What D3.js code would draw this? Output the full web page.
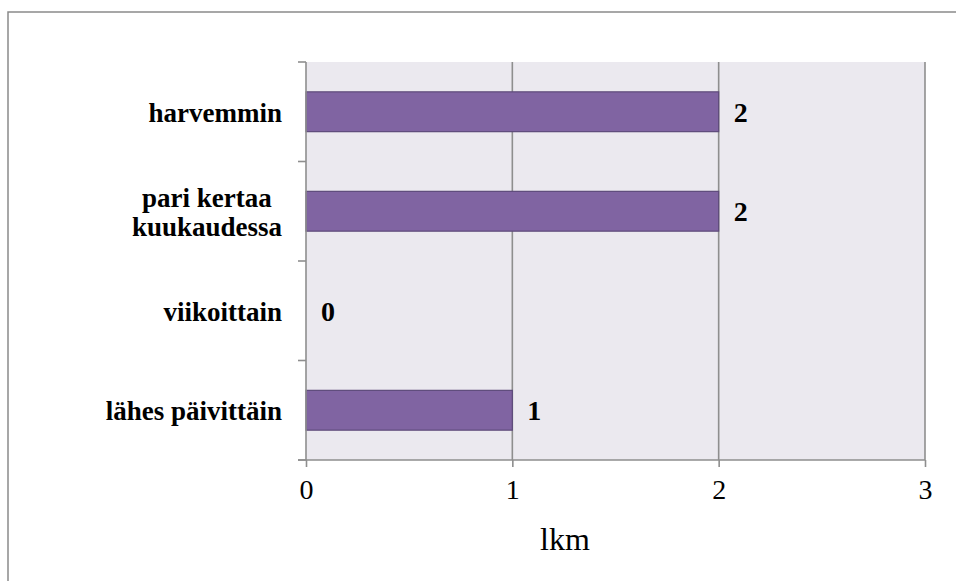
<!DOCTYPE html>
<html>
<head>
<meta charset="utf-8">
<script src="https://cdn.jsdelivr.net/npm/d3@7"></script>
<style>
  html, body { margin: 0; padding: 0; background: #ffffff; }
  svg { display: block; }
</style>
</head>
<body>
<svg id="chart" width="956" height="581"></svg>
<script>
// Categories, top to bottom, with "\n" marking a line break in a label
const categories = ["harvemmin", "pari kertaa\nkuukaudessa", "viikoittain", "lähes päivittäin"];
const counts = [2, 2, 0, 1];
const xTicks = [0, 1, 2, 3];
const xTitle = "lkm";

const W = 956, H = 581;
const plot = { left: 306, right: 925, top: 62, bottom: 460 };
const serif = "'Liberation Serif', 'Times New Roman', serif";
const gridColor = "#8e8e8e";

const svg = d3.select("#chart");

// Outer frame
svg.append("path")
  .attr("d", `M8,${H + 2}V12H${W + 2}`)
  .attr("fill", "none")
  .attr("stroke", "#8a8a8a")
  .attr("stroke-width", 1.5);

const x = d3.scaleLinear().domain([0, 3]).range([plot.left, plot.right]);
const y = d3.scaleBand().domain(categories)
  .range([plot.top, plot.bottom])
  .paddingInner(0.6).paddingOuter(0.3);

// Plot background
svg.append("rect")
  .attr("x", plot.left).attr("y", plot.top)
  .attr("width", plot.right - plot.left).attr("height", plot.bottom - plot.top)
  .attr("fill", "#ebe9ef");

// Vertical gridlines
svg.append("g").selectAll("line")
  .data(xTicks.filter(d => d > 0))
  .join("line")
  .attr("x1", d => x(d)).attr("x2", d => x(d))
  .attr("y1", plot.top).attr("y2", plot.bottom)
  .attr("stroke", gridColor).attr("stroke-width", 1.6);

// Bars
svg.append("g").selectAll("rect")
  .data(categories.map((c, i) => ({ c, v: counts[i] })).filter(d => d.v > 0))
  .join("rect")
  .attr("x", x(0))
  .attr("y", d => y(d.c))
  .attr("width", d => x(d.v) - x(0))
  .attr("height", y.bandwidth())
  .attr("fill", "#8064a2")
  .attr("stroke", "#5d4a7a")
  .attr("stroke-width", 1.2);

// X axis (bottom) with tick marks below the line
const xAxis = d3.axisBottom(x).tickValues(xTicks).tickFormat(d3.format("d"))
  .tickSize(7).tickPadding(12);
const gx = svg.append("g").attr("transform", `translate(0,${plot.bottom})`).call(xAxis);
gx.select(".domain").remove();
gx.selectAll(".tick line").attr("stroke", gridColor).attr("stroke-width", 1.6);
gx.selectAll(".tick text")
  .attr("font-family", serif).attr("font-size", 28).attr("fill", "#000");
gx.append("line")
  .attr("x1", plot.left - 8).attr("x2", plot.right)
  .attr("stroke", gridColor).attr("stroke-width", 1.6);

// Y axis line and tick marks at the category boundaries
const step = y.step();
const bounds = categories.map(c => y(c) - step * 0.3).concat([plot.bottom]);
svg.append("line")
  .attr("x1", plot.left).attr("x2", plot.left)
  .attr("y1", plot.top).attr("y2", plot.bottom)
  .attr("stroke", gridColor).attr("stroke-width", 1.6);
svg.append("g").selectAll("line")
  .data(bounds)
  .join("line")
  .attr("x1", plot.left - 8).attr("x2", plot.left)
  .attr("y1", d => d).attr("y2", d => d)
  .attr("stroke", gridColor).attr("stroke-width", 1.6);

// Category labels: lines centred within a block right-aligned to the axis
const labelRight = 282;
const lineH = 29;
const catG = svg.append("g")
  .attr("font-family", serif).attr("font-size", 27).attr("font-weight", "bold").attr("fill", "#000");
categories.forEach(c => {
  const lines = c.split("\n");
  const cy = y(c) + y.bandwidth() / 2;
  const t = catG.append("text").attr("text-anchor", "middle");
  lines.forEach((ln, i) => {
    t.append("tspan").text(ln)
      .attr("y", cy + 10 + (i - (lines.length - 1) / 2) * lineH);
  });
  const maxW = d3.max(t.selectAll("tspan").nodes(), n => n.getComputedTextLength());
  t.selectAll("tspan").attr("x", labelRight - maxW / 2);
});

// Value labels beside each bar
svg.append("g").selectAll("text")
  .data(categories.map((c, i) => ({ c, v: counts[i] })))
  .join("text")
  .attr("x", d => x(d.v) + 15)
  .attr("y", d => y(d.c) + y.bandwidth() / 2 + 10)
  .attr("font-family", serif).attr("font-size", 28).attr("font-weight", "bold")
  .attr("fill", "#000")
  .text(d => d.v);

// Axis title
svg.append("text")
  .attr("x", 565).attr("y", 550)
  .attr("text-anchor", "middle")
  .attr("font-family", serif).attr("font-size", 32).attr("fill", "#000")
  .text(xTitle);
</script>
</body>
</html>
